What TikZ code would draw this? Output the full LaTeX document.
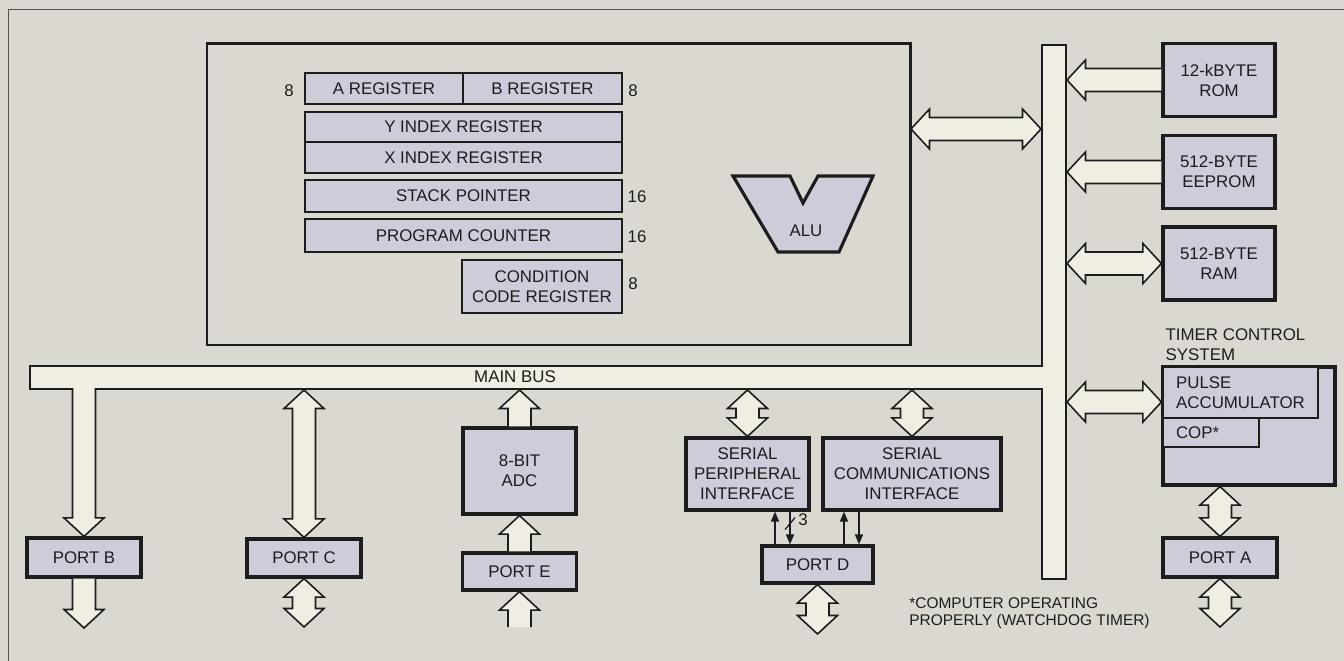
\documentclass[tikz,border=0pt]{standalone}
\usepackage{fontspec}
\setmainfont{Liberation Sans}
\usepackage{xcolor}
\usepackage{tikz}
\usetikzlibrary{positioning, arrows.meta, calc}

\definecolor{paper}{RGB}{218,216,208}
\definecolor{blockfill}{RGB}{207,204,217}
\definecolor{busfill}{RGB}{240,238,227}
\definecolor{ink}{RGB}{28,28,28}

% sizes of the fat bus arrows
\def\fatHead{4mm}
\def\fatShaft{2.3mm}
\def\fatLen{3.7mm}

% fat arrow, open tail at #1, head at #2
\newcommand{\busone}[2]{%
  \draw[fatarr] let \p1=($(#2)!\fatLen!(#1)$) in
    ($(#1)!\fatShaft!90:(#2)$) -- ($(\p1)!\fatShaft!90:(#2)$) -- ($(\p1)!\fatHead!90:(#2)$)
    -- (#2) -- ($(\p1)!\fatHead!-90:(#2)$) -- ($(\p1)!\fatShaft!-90:(#2)$) -- ($(#1)!\fatShaft!-90:(#2)$);
}
% fat arrow with a head at both ends
\newcommand{\bustwo}[2]{%
  \draw[fatarr] let \p1=($(#1)!\fatLen!(#2)$), \p2=($(#2)!\fatLen!(#1)$) in
    (#1) -- ($(\p1)!\fatHead!90:(#2)$) -- ($(\p1)!\fatShaft!90:(#2)$) -- ($(\p2)!\fatShaft!90:(#2)$)
    -- ($(\p2)!\fatHead!90:(#2)$) -- (#2) -- ($(\p2)!\fatHead!-90:(#2)$) -- ($(\p2)!\fatShaft!-90:(#2)$)
    -- ($(\p1)!\fatShaft!-90:(#2)$) -- ($(\p1)!\fatHead!-90:(#2)$) -- cycle;
}

\begin{document}
\begin{tikzpicture}[
    x=0.2mm, y=-0.2mm,
    font=\fontsize{9.6}{11.4}\selectfont,
    block/.style={rectangle, draw=ink, line width=1.8pt, fill=blockfill, align=center, inner sep=0pt, text=ink},
    reg/.style={block, line width=1.5pt},
    port/.style={block, minimum width=22.8mm, minimum height=7.8mm},
    mem/.style={block, minimum width=22.4mm, minimum height=14.6mm},
    thinblk/.style={rectangle, draw=ink, line width=0.7pt, fill=blockfill, align=left, inner ysep=0pt, outer sep=0pt, text=ink},
    bits/.style={text=ink, inner sep=1pt},
    busline/.style={draw=ink, line width=0.6pt, fill=busfill},
    fatarr/.style={draw=ink, line width=0.9pt, fill=busfill, line join=miter},
    sig/.style={-{Triangle[length=2mm, width=1.6mm]}, draw=ink, line width=0.8pt},
]
\useasboundingbox (0,0) rectangle (1344,661);
\fill[paper] (0,0) rectangle (1344,661);
\draw[ink!75, line width=0.5pt] (8,661) -- (8,9) -- (1344,9);

% main bus and vertical bus
\draw[busline] (30,366) -- (1042,366) -- (1042,45) -- (1066,45) -- (1066,579)
  -- (1042,579) -- (1042,389) -- (30,389) -- cycle;
\node[text=ink] (busLbl) at (515,377) {MAIN BUS};

% processor core
\node[block, fill=none, line width=1.7pt, minimum width=140.6mm, minimum height=60.2mm] (cpu) at (558.5,194.5) {};
\node[reg, minimum width=31.6mm, minimum height=6.2mm] (aReg) at (384,88.5) {A REGISTER};
\node[reg, minimum width=31.8mm, minimum height=6.2mm] (bReg) at (542.5,88.5) {B REGISTER};
\node[reg, minimum width=63.4mm, minimum height=6mm] (yReg) at (463.5,127) {Y INDEX REGISTER};
\node[reg, minimum width=63.4mm, minimum height=6.2mm] (xReg) at (463.5,157.5) {X INDEX REGISTER};
\node[reg, minimum width=63.4mm, minimum height=6.4mm] (spReg) at (463.5,196) {STACK POINTER};
\node[reg, minimum width=63.4mm, minimum height=6.6mm] (pcReg) at (463.5,235.5) {PROGRAM COUNTER};
\node[reg, minimum width=32mm, minimum height=10.6mm] (ccReg) at (542,286.5) {CONDITION\\CODE REGISTER};

% register widths
\node[bits] (aBits) at (289,91) {8};
\node[bits] (bBits) at (633,91) {8};
\node[bits] (spBits) at (637,197) {16};
\node[bits] (pcBits) at (637,237) {16};
\node[bits] (ccBits) at (633,284) {8};

% ALU
\draw[draw=ink, line width=1.8pt, fill=blockfill, line join=miter] (733,176) -- (790,176) -- (803,203)
  -- (818,176) -- (873,176) -- (839,252) -- (778,252) -- cycle;
\node[text=ink] (alu) at (806,231) {ALU};

% memories
\node[mem] (rom) at (1219,80) {12-kBYTE\\ROM};
\node[mem] (eeprom) at (1219,172) {512-BYTE\\EEPROM};
\node[mem] (ram) at (1219,263.5) {512-BYTE\\RAM};

% timer system
\node[text=ink, align=left, inner sep=0pt] (tcsLbl) at (1235.5,345) {TIMER CONTROL\\SYSTEM};
\node[block, minimum width=34.4mm, minimum height=23.6mm] (timer) at (1249,426) {};
\node[thinblk, anchor=north west, minimum width=31mm, minimum height=10.2mm, inner xsep=2.6mm]
  (pulse) at ([shift={(0.9pt,-0.9pt)}]timer.north west) {PULSE\\ACCUMULATOR};
\node[thinblk, anchor=north west, text width=14mm, minimum height=5.8mm, inner xsep=2.6mm]
  (cop) at (pulse.south west) {COP*};
\node[port] (portA) at (1220,557.5) {PORT A};

% ports and peripherals on the main bus
\node[port] (portB) at (84,557.5) {PORT B};
\node[port, minimum height=7.6mm] (portC) at (304,558) {PORT C};
\node[block, minimum width=22.6mm, minimum height=17.2mm] (adc) at (519.5,471) {8-BIT\\ADC};
\node[port, minimum height=7.4mm] (portE) at (519.5,571.5) {PORT E};
\node[block, minimum width=24.6mm, minimum height=14.4mm] (spi) at (747.5,474) {SERIAL\\PERIPHERAL\\INTERFACE};
\node[block, minimum width=35.6mm, minimum height=14.4mm] (sci) at (912,474) {SERIAL\\COMMUNICATIONS\\INTERFACE};
\node[port, minimum width=22.2mm, minimum height=7.4mm] (portD) at (817.5,564.5) {PORT D};

\node[text=ink, align=left, inner sep=0pt, font=\fontsize{8.8}{9.8}\selectfont] (copNote) at (1029.5,613.5)
  {*COMPUTER OPERATING\\PROPERLY (WATCHDOG TIMER)};

% bus taps and free ends
\coordinate (vbus) at (1067,0);
\coordinate (tmrLvl) at (0,402);
\coordinate (tapB) at (84,388);
\coordinate (tapC) at (304,390);
\coordinate (tapE) at (519.5,390);
\coordinate (tapSPI) at (747.5,390);
\coordinate (tapSCI) at (912,390);
\coordinate (cpuOut) at (911,129);
\coordinate (tapCPU) at (1041,129);
\coordinate (tapROM) at (rom.west -| vbus);
\coordinate (tapEE) at (eeprom.west -| vbus);
\coordinate (tapRAM) at (ram.west -| vbus);
\coordinate (tapTmr) at (vbus |- tmrLvl);
\coordinate (tmrIn) at (timer.west |- tmrLvl);
\coordinate (tmrOut) at (timer.south -| portA.north);
\coordinate (endB) at (84,628);
\coordinate (endC) at (304,627);
\coordinate (endE) at (519.5,627);
\coordinate (endD) at (817.5,634);
\coordinate (endA) at (1220,627);

% fat bus arrows
\busone{tapB}{portB.north}
\busone{portB.south}{endB}
\bustwo{tapC}{portC.north}
\bustwo{portC.south}{endC}
\busone{adc.north}{tapE}
\busone{portE.north}{adc.south}
\busone{endE}{portE.south}
\bustwo{tapSPI}{spi.north}
\bustwo{tapSCI}{sci.north}
\bustwo{portD.south}{endD}
\bustwo{cpuOut}{tapCPU}
\busone{rom.west}{tapROM}
\busone{eeprom.west}{tapEE}
\bustwo{tapRAM}{ram.west}
\bustwo{tapTmr}{tmrIn}
\bustwo{tmrOut}{portA.north}
\bustwo{portA.south}{endA}

% serial lines to port D
\coordinate (s1) at (775,0);
\coordinate (s2) at (790,0);
\coordinate (s3) at (844,0);
\coordinate (s4) at (859,0);
\draw[sig] (portD.north -| s1) -- (spi.south -| s1);
\draw[sig] (spi.south -| s2) -- (portD.north -| s2);
\draw[sig] (portD.north -| s3) -- (sci.south -| s3);
\draw[sig] (sci.south -| s4) -- (portD.north -| s4);
\draw[draw=ink, line width=0.7pt] ($(spi.south -| s2)+(-5,18)$) -- ++(10,-12);
\node[bits] (spiBits) at (803,520) {3};

\end{tikzpicture}
\end{document}
